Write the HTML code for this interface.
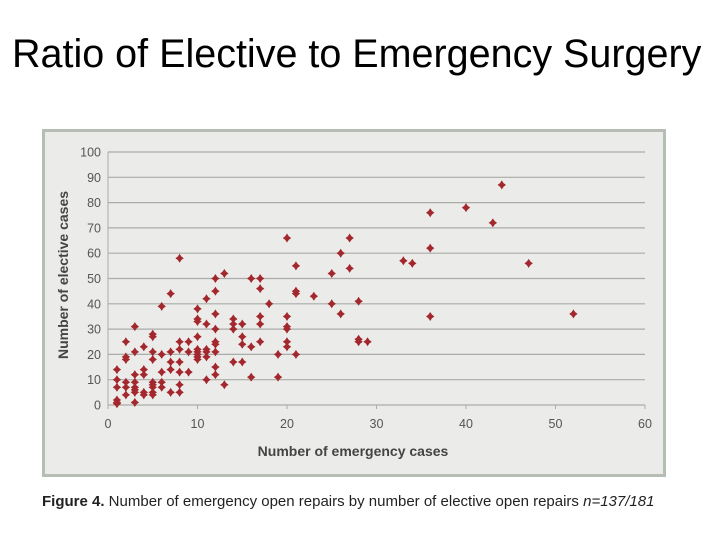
<!DOCTYPE html>
<html><head><meta charset="utf-8"><style>
body{margin:0;width:720px;height:540px;background:#fff;overflow:hidden;font-family:"Liberation Sans",sans-serif;}
#title{position:absolute;left:12px;top:32px;font-size:39.5px;color:#000;white-space:nowrap;}
#cap{position:absolute;left:42px;top:493px;font-size:15px;color:#222;white-space:nowrap;}
</style></head><body>
<div id="title">Ratio of Elective to Emergency Surgery</div>
<svg id="chart" width="720" height="540" style="position:absolute;left:0;top:0"></svg>
<div id="cap"><b>Figure 4.</b> Number of emergency open repairs by number of elective open repairs <i>n=137/181</i></div>
<script>
const xs=[1,1,1,1,1,1,2,2,2,2,2,2,3,3,3,3,3,3,3,3,4,4,4,4,4,5,5,5,5,5,5,5,5,5,6,6,6,6,6,7,7,7,7,7,8,8,8,8,8,8,8,9,9,9,10,10,10,10,10,10,10,10,10,11,11,11,11,11,11,12,12,12,12,12,12,12,12,12,13,13,14,14,14,14,15,15,15,15,16,16,16,17,17,17,17,17,18,19,19,20,20,20,20,20,20,21,21,21,21,23,25,25,26,26,27,27,28,28,28,29,33,34,36,36,36,40,43,44,47,52];
const ys=[14,10,7,1,2,0.5,25,19,18,9,7,4,31,21,12,9,7,5,6,1,23,14,12,5,4,28,27,21,18,9,7,5,4,8,39,20,13,9,7,44,21,17,14,5,58,25,22,17,13,8,5,25,21,13,38,34,33,27,22,21,20,19,18,42,32,22,21,19,10,50,45,36,30,25,24,21,15,12,52,8,34,32,30,17,32,27,24,17,50,23,11,50,46,35,32,25,40,20,11,66,35,31,30,25,23,55,45,44,20,43,52,40,60,36,66,54,41,26,25,25,57,56,76,62,35,78,72,87,56,36];
const xTicks=[0,10,20,30,40,50,60];
const yTicks=[0,10,20,30,40,50,60,70,80,90,100];
const svg=document.getElementById('chart');const NS='http://www.w3.org/2000/svg';
function X(v){return 108+v*(645-108)/60;}
function Y(v){return 405-v*(405-152)/100;}
function mk(t,a,p){const e=document.createElementNS(NS,t);for(const k in a)e.setAttribute(k,a[k]);(p||svg).appendChild(e);return e;}
const bg=mk('rect',{x:43.5,y:130.5,width:621,height:345,fill:'#ebebe9',stroke:'#b5bdb5','stroke-width':3});


yTicks.forEach(t=>{
 const l=mk('line',{x1:X(0),x2:X(60),y1:Y(t),y2:Y(t),stroke:'#a9aca9','stroke-width':1.2});
 
 
 const tx=mk('text',{x:101,y:Y(t)+4.5,'text-anchor':'end','font-size':12.5,fill:'#555'});tx.textContent=t;
 
 
});
mk('line',{x1:X(0),x2:X(0),y1:Y(100),y2:Y(0)+3,stroke:'#a9aca9'});
xTicks.forEach(t=>{
 mk('line',{x1:X(t),x2:X(t),y1:Y(0),y2:Y(0)+4,stroke:'#a9aca9'});
 const tx=mk('text',{x:X(t),y:428,'text-anchor':'middle','font-size':12.5,fill:'#555'});tx.textContent=t;
 
 
});
const xt=mk('text',{x:353,y:456,'text-anchor':'middle','font-size':14,'font-weight':'bold',fill:'#444'});xt.textContent='Number of emergency cases';


const yt=mk('text',{x:0,y:0,'text-anchor':'middle','font-size':14,'font-weight':'bold',fill:'#444',transform:'translate(68,275) rotate(-90)'});yt.textContent='Number of elective cases';


xs.forEach((v,i)=>{
 const cx=X(v),cy=Y(ys[i]);
 const p=mk('path',{d:`M${cx},${cy-4.5}L${cx+1.8},${cy-1.8}L${cx+4.2},${cy}L${cx+1.8},${cy+1.8}L${cx},${cy+4.5}L${cx-1.8},${cy+1.8}L${cx-4.2},${cy}L${cx-1.8},${cy-1.8}Z`,fill:'#a3282e'});
 
 
});
</script>
</body></html>
